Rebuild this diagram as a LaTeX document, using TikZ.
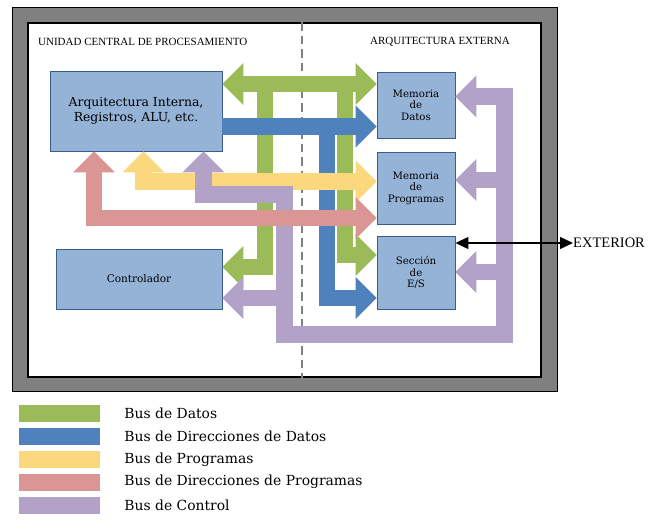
\documentclass[tikz,border=0pt]{standalone}
\usepackage{fontspec}
\setmainfont{DejaVu Serif}
\newfontfamily\timesfont{Liberation Serif}
\usetikzlibrary{arrows.meta,positioning}

\definecolor{busdatos}{HTML}{9BBB59}
\definecolor{busdirdatos}{HTML}{4F81BD}
\definecolor{busprog}{HTML}{FBD87D}
\definecolor{busdirprog}{HTML}{D99694}
\definecolor{buscontrol}{HTML}{B3A2C7}
\definecolor{cajafondo}{HTML}{95B3D7}
\definecolor{cajaborde}{HTML}{385D8A}
\definecolor{marcogris}{HTML}{808080}

\tikzset{
    caja/.style={draw=cajaborde, fill=cajafondo, line width=0.9pt,
        align=center, inner sep=0pt},
    bus/.style={line width=16.5pt, line join=miter,
        >={Triangle[length=21pt,width=42pt,line width=0pt]}},
    muestra/.style={minimum width=81pt, minimum height=17pt, inner sep=0pt},
    leyenda/.style={font=\fontsize{13.9}{16}\selectfont, inner sep=0pt}
}

\begin{document}
\begin{tikzpicture}[x=1pt,y=-1pt]
    \useasboundingbox (0,0) rectangle (656,524);

    \node[draw=black, fill=marcogris, line width=0.8pt, minimum width=545pt,
    minimum height=384pt, inner sep=0pt] (marco) at (284.5,199) {};

    \node[draw=black, fill=white, line width=1.2pt, minimum width=513pt,
    minimum height=354pt, inner sep=0pt] (interior) at (284.5,200) {};

    \draw[marcogris, line width=2.3pt, dash pattern=on 8.5pt off 5pt]
    (interior.north -| 302,0) -- (interior.south -| 302,0);

    \node[anchor=west, inner sep=0pt, font=\timesfont\fontsize{11}{13}\selectfont]
    (ucp) at (38,42) {UNIDAD CENTRAL DE PROCESAMIENTO};

    \node[anchor=west, inner sep=0pt, font=\timesfont\fontsize{11}{13}\selectfont]
    (arqext) at (370,42) {ARQUITECTURA EXTERNA};

    \node[caja, minimum width=172pt, minimum height=80pt,
    font=\fontsize{12.4}{15}\selectfont] (arq) at (136,111)
    {Arquitectura Interna,\\Registros, ALU, etc.};

    \node[caja, minimum width=166pt, minimum height=60pt,
    font=\fontsize{10.5}{12}\selectfont] (ctrl) at (139,279) {Controlador};

    \node[caja, minimum width=78pt, minimum height=66pt,
    font=\fontsize{10.2}{11.5}\selectfont] (memdat) at (416,105)
    {Memoria\\de\\Datos};

    \node[caja, minimum width=78pt, minimum height=72pt,
    font=\fontsize{10.2}{11.5}\selectfont] (memprog) at (416,188)
    {Memoria\\de\\Programas};

    \node[caja, minimum width=78pt, minimum height=73pt,
    font=\fontsize{10.2}{11.5}\selectfont] (es) at (416,272.5)
    {Secci\'on\\de\\E/S};

    \draw[bus, busdatos, <->] (arq.east |- 0,84) -- (memdat.west |- 0,84);
    \draw[bus, busdatos, ->] (265,84) -- (265,267) -- (ctrl.east |- 0,267);
    \draw[bus, busdatos, ->] (345,84) -- (345,255) -- (es.west |- 0,255);

    \draw[bus, busdirdatos, ->] (arq.east |- 0,126.5) -- (memdat.west |- 0,126.5);
    \draw[bus, busdirdatos, ->] (327,126.5) -- (327,298) -- (es.west |- 0,298);

    \draw[bus, busprog, <->] (143.5,0 |- arq.south) -- (143.5,181.5)
    -- (memprog.west |- 0,181.5);

    \draw[bus, buscontrol, <->] (203.5,0 |- arq.south) -- (203.5,194.5)
    -- (284.5,194.5) -- (284.5,334.5) -- (504.5,334.5) -- (504.5,96.5)
    -- (memdat.east |- 0,96.5);
    \draw[bus, buscontrol, ->] (284.5,298) -- (ctrl.east |- 0,298);
    \draw[bus, buscontrol, ->] (504.5,180) -- (memprog.east |- 0,180);
    \draw[bus, buscontrol, ->] (504.5,272) -- (es.east |- 0,272);

    \draw[bus, busdirprog, <->] (94,0 |- arq.south) -- (94,218)
    -- (memprog.west |- 0,218);

    \node[anchor=west, inner sep=0pt, font=\timesfont\fontsize{14.5}{16}\selectfont]
    (exterior) at (573,243) {EXTERIOR};

    \draw[line width=1.3pt, {Triangle[length=13pt,width=12pt]}-{Triangle[length=13pt,width=12pt]}]
    (es.east |- exterior.west) -- (exterior.west);

    \node[muestra, fill=busdatos] (m1) at (59.5,413.5) {};
    \node[muestra, fill=busdirdatos, below=5.5pt of m1] (m2) {};
    \node[muestra, fill=busprog, below=5.5pt of m2] (m3) {};
    \node[muestra, fill=busdirprog, below=5.5pt of m3] (m4) {};
    \node[muestra, fill=buscontrol, below=5.5pt of m4] (m5) {};

    \node[leyenda, right=24pt of m1] (t1) {Bus de Datos};
    \node[leyenda, right=24pt of m2] (t2) {Bus de Direcciones de Datos};
    \node[leyenda, right=24pt of m3] (t3) {Bus de Programas};
    \node[leyenda, right=24pt of m4] (t4) {Bus de Direcciones de Programas};
    \node[leyenda, right=24pt of m5] (t5) {Bus de Control};

\end{tikzpicture}
\end{document}
